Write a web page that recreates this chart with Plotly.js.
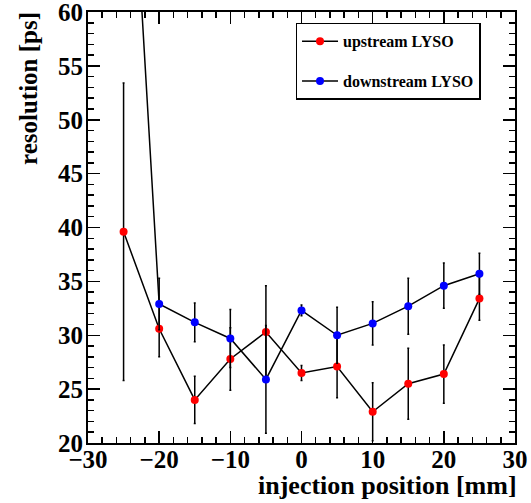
<!DOCTYPE html>
<html>
<head>
<meta charset="utf-8">
<script src="https://cdn.plot.ly/plotly-3.0.1.min.js"></script>
<style>html,body{margin:0;padding:0;background:#fff;}#chart{width:531px;height:503px;}</style>
</head>
<body>
<div id="chart"></div>
<script>
var positions = [-25, -20, -15, -10, -5, 0, 5, 10, 15, 20, 25];
var upstream = [39.6, 30.6, 24.0, 27.8, 30.3, 26.5, 27.1, 22.9, 25.5, 26.4, 33.4];
var upstreamErr = [13.8, 2.6, 2.2, 2.9, 4.3, 0.7, 2.9, 2.7, 3.3, 2.7, 2.0];
var downstream = [89.0, 32.9, 31.2, 29.7, 25.9, 32.3, 30.0, 31.1, 32.7, 34.6, 35.7];
var downstreamErr = [5.0, 2.4, 1.8, 2.7, 5.0, 0.5, 2.6, 2.0, 2.6, 2.1, 1.9];
var seriesNames = ['upstream LYSO', 'downstream LYSO'];
var xTickVals = [-30, -20, -10, 0, 10, 20, 30];
var xTickLabels = ['\u221230', '\u221220', '\u221210', '0', '10', '20', '30'];
var yTickVals = [20, 25, 30, 35, 40, 45, 50, 55, 60];
var yTickLabels = ['20', '25', '30', '35', '40', '45', '50', '55', '60'];
var xTitle = 'injection position [mm]';
var yTitle = 'resolution [ps]';

var FONT = '"Liberation Serif", "DejaVu Serif", serif';

function bold(arr) { return arr.map(function (s) { return '<b>' + s + '</b>'; }); }

function trace(y, err, color, name, group) {
  return {
    x: positions, y: y, name: name, legendgroup: group,
    type: 'scatter', mode: 'lines+markers',
    line: {color: '#000', width: 1.5},
    marker: {color: color, size: 8, symbol: 'circle'},
    error_y: {type: 'data', array: err, visible: true, color: '#000', thickness: 1.5, width: 1}
  };
}

var data = [
  trace(upstream, upstreamErr, '#ff0000', seriesNames[0], 'a'),
  trace(downstream, downstreamErr, '#0000ff', seriesNames[1], 'b')
];

var axisCommon = {
  showgrid: false, zeroline: false, showline: true, linecolor: '#000', linewidth: 2,
  mirror: 'allticks', ticks: 'inside', ticklen: 12, tickwidth: 1.5, tickcolor: '#000',
  tickfont: {family: FONT, size: 25, color: '#000'},
  ticklabeloverflow: 'allow'
};

var layout = {
  width: 531, height: 503,
  margin: {l: 88, r: 16, t: 12, b: 60},
  paper_bgcolor: '#fff', plot_bgcolor: '#fff',
  showlegend: true,
  legend: {
    x: 0.486, y: 0.975, xanchor: 'left', yanchor: 'top',
    bgcolor: '#fff', bordercolor: '#000', borderwidth: 1.5,
    font: {family: FONT, size: 16, color: '#000', weight: 700},
    traceorder: 'grouped', tracegroupgap: 16,
    itemwidth: 36
  },
  xaxis: Object.assign({}, axisCommon, {
    range: [-30, 30], tickmode: 'array', tickvals: xTickVals, ticktext: bold(xTickLabels),
    ticklabelstandoff: -7,
    minor: {ticks: 'inside', ticklen: 6, tickwidth: 1.5, tickcolor: '#000', tickmode: 'linear', tick0: -30, dtick: 2}
  }),
  yaxis: Object.assign({}, axisCommon, {
    range: [20, 60], tickmode: 'array', tickvals: yTickVals, ticktext: bold(yTickLabels),
    ticklabelstandoff: -2,
    minor: {ticks: 'inside', ticklen: 6, tickwidth: 1.5, tickcolor: '#000', tickmode: 'linear', tick0: 20, dtick: 1}
  }),
  annotations: [
    {text: xTitle, xref: 'paper', yref: 'paper', x: 1, y: 0, xanchor: 'right', yanchor: 'top',
     xshift: 3, yshift: -27, borderpad: 0, showarrow: false, font: {family: FONT, size: 26, color: '#000', weight: 700}},
    {text: yTitle, xref: 'paper', yref: 'paper', x: 0, y: 1, xanchor: 'right', yanchor: 'top',
     xshift: -44, yshift: 2, textangle: -90, showarrow: false,
     font: {family: FONT, size: 25, color: '#000', weight: 700}}
  ]
};

Plotly.newPlot('chart', data, layout, {displayModeBar: false, staticPlot: true});
</script>
</body>
</html>
